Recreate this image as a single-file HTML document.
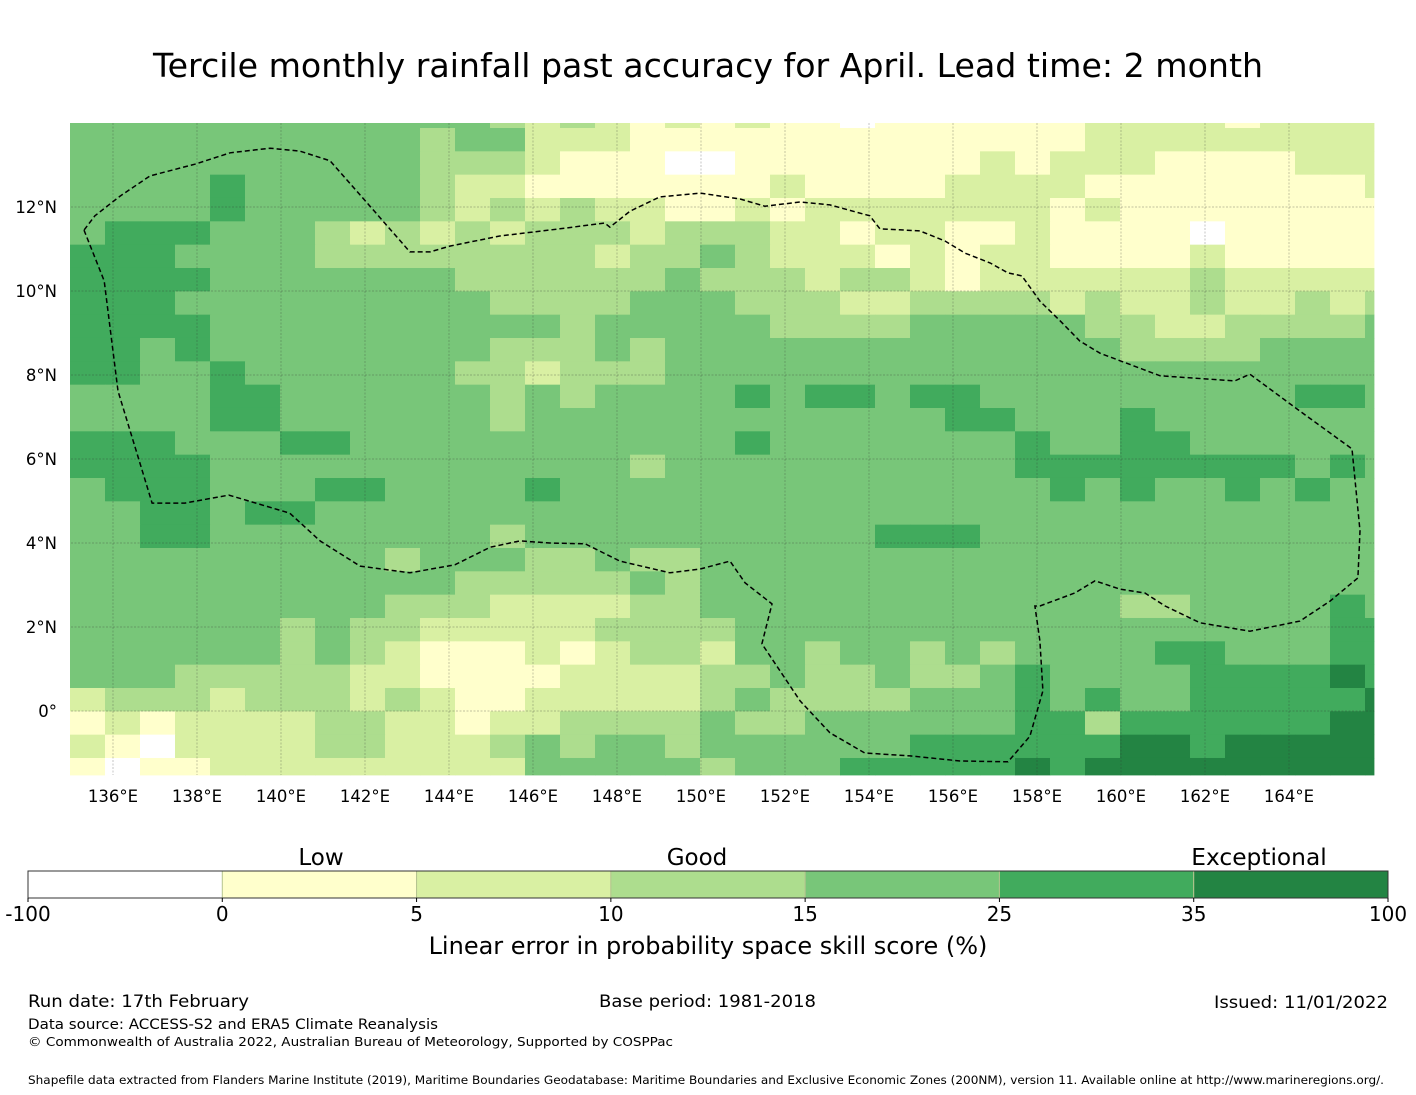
<!DOCTYPE html>
<html><head><meta charset="utf-8"><style>
html,body{margin:0;padding:0;background:#fff;}
svg{display:block;font-family:"DejaVu Sans","Liberation Sans",sans-serif;}
</style></head><body>
<svg id="chart" width="1416" height="1095" viewBox="0 0 1416 1095" xmlns="http://www.w3.org/2000/svg">
<text x="708" y="77" text-anchor="middle" font-size="33.2" fill="#000">Tercile monthly rainfall past accuracy for April. Lead time: 2 month</text>
<g id="map"></g>
<g id="grid"></g>
<path id="eez" fill="none" stroke="#000" stroke-width="1.5" stroke-dasharray="5,3"/>
<g id="xticks"></g>
<g id="yticks"></g>
<g id="cbar"></g>
<text x="321" y="865" text-anchor="middle" font-size="23">Low</text>
<text x="697" y="865" text-anchor="middle" font-size="23">Good</text>
<text x="1259" y="865" text-anchor="middle" font-size="23.3">Exceptional</text>
<text x="708" y="954" text-anchor="middle" font-size="24">Linear error in probability space skill score (%)</text>
<text x="28" y="1007" font-size="17" textLength="221" lengthAdjust="spacingAndGlyphs">Run date: 17th February</text>
<text x="599" y="1007" font-size="17" textLength="217" lengthAdjust="spacingAndGlyphs">Base period: 1981-2018</text>
<text x="1388" y="1008" text-anchor="end" font-size="17" textLength="174" lengthAdjust="spacingAndGlyphs">Issued: 11/01/2022</text>
<text x="28" y="1029" font-size="14.5" textLength="410" lengthAdjust="spacingAndGlyphs">Data source: ACCESS-S2 and ERA5 Climate Reanalysis</text>
<text x="28" y="1046" font-size="12.5" textLength="645" lengthAdjust="spacingAndGlyphs">© Commonwealth of Australia 2022, Australian Bureau of Meteorology, Supported by COSPPac</text>
<text x="28" y="1084" font-size="11.5" textLength="1356" lengthAdjust="spacingAndGlyphs">Shapefile data extracted from Flanders Marine Institute (2019), Maritime Boundaries Geodatabase: Maritime Boundaries and Exclusive Economic Zones (200NM), version 11. Available online at http://www.marineregions.org/.</text>
</svg>
<script>
// category per cell (0..6 -> colour bins), rows north->south, cols west->east
const rows=[
"4444444444443"+"232121211011"+"1111222212222",
"4444444444344"+"222111111111"+"1111222222222",
"4444444444333"+"211100111111"+"1212221111222",
"4444544444322"+"111111121111"+"2222111111112",
"4444544444323"+"232211212222"+"2221211111111",
"4555444323232"+"333233322122"+"1121111011111",
"5554444333333"+"332334322212"+"1221111211111",
"5555444444433"+"333343332332"+"1222222322222",
"5554444444443"+"333444333223"+"3332322322323",
"5555444444444"+"434444433334"+"4444332233334",
"5545444444443"+"334344444444"+"4444433334444",
"5544544444433"+"233344444444"+"4444444444444",
"4444554444443"+"434444545545"+"5444444444554",
"4444554444443"+"444444444444"+"5544454444444",
"5554445544444"+"444444544444"+"4454455444444",
"5555444444444"+"444344444444"+"4455555555454",
"4555444554444"+"544444444444"+"4445454454544",
"4455455444444"+"444444444444"+"4444444444444",
"4455444444443"+"444444444455"+"5444444444444",
"4444444443444"+"334334444444"+"4444444444444",
"4444444444433"+"333434444444"+"4444444444444",
"4444444443332"+"222334444444"+"4444433444454",
"4444443433222"+"223333444444"+"4444444444455",
"4444443432111"+"212332443443"+"4344445544455",
"4443333322111"+"122223343343"+"3454444555565",
"2333233323211"+"222223433334"+"4454544555556",
"1212222332212"+"233334334444"+"4455355555566",
"2102222332223"+"434434444445"+"5555566566666",
"1011222222222"+"444443444555"+"5565666666666"
];
const binEdges=[-100,0,5,10,15,25,35,100];
const binColors=["#ffffff","#ffffcc","#d9f0a3","#addd8e","#78c679","#41ab5d","#238443"];
const lonTicks=[136,138,140,142,144,146,148,150,152,154,156,158,160,162,164];
const latTicks=[0,2,4,6,8,10,12];
const boundaryLonLat=[[135.31,11.45],[135.79,10.24],[136.12,7.62],[136.93,4.95],[137.71,4.95],[138.76,5.14],[140.21,4.71],[140.93,4.05],[141.88,3.45],[143.07,3.29],[144.14,3.48],[144.98,3.90],[145.69,4.05],[146.40,4.00],[147.24,3.98],[148.07,3.57],[149.26,3.29],[149.98,3.38],[150.69,3.57],[151.05,3.05],[151.69,2.55],[151.45,1.60],[152.36,0.24],[153.07,-0.52],[153.90,-1.00],[154.98,-1.07],[156.17,-1.19],[157.31,-1.21],[157.83,-0.60],[158.14,0.48],[158.07,1.67],[157.95,2.50],[158.07,2.50],[158.90,2.81],[159.38,3.10],[159.98,2.90],[160.57,2.81],[161.05,2.50],[161.88,2.10],[163.07,1.90],[164.26,2.14],[164.98,2.62],[165.64,3.17],[165.69,4.29],[165.50,6.24],[164.26,7.14],[163.07,8.02],[162.71,7.86],[160.93,7.98],[159.50,8.52],[159.02,8.81],[158.55,9.29],[158.07,9.76],[157.64,10.36],[157.31,10.43],[156.88,10.67],[156.29,10.90],[155.81,11.19],[155.21,11.43],[154.26,11.48],[154.02,11.79],[153.07,12.05],[152.36,12.12],[151.52,12.02],[150.93,12.19],[149.98,12.33],[149.02,12.24],[148.31,11.90],[147.83,11.52],[147.71,11.62],[146.64,11.48],[145.21,11.31],[144.02,11.07],[143.55,10.93],[143.07,10.93],[142.12,12.02],[141.17,13.10],[140.45,13.33],[139.74,13.40],[138.79,13.29],[137.95,13.02],[136.88,12.74],[136.17,12.26],[135.57,11.79],[135.31,11.45]];

const NS="http://www.w3.org/2000/svg";
const X0=71, Y0=123, PX=42, LON0=135, LAT0=14, MAPW=1303, MAPH=652;
const CW=35, RH=23.333, ROW_OFF=5;
function xLon(l){return X0+(l-LON0)*PX;}
function yLat(l){return Y0+(LAT0-l)*PX;}

const map=document.getElementById('map');
rows.forEach((r,ri)=>{
  let top=Y0+ROW_OFF+(ri-1)*RH, bot=top+RH;
  top=Math.max(top,Y0); bot=Math.min(bot,Y0+MAPH);
  for(let ci=0;ci<r.length;ci++){
    const x=70+ci*CW, w=Math.min(CW, X0+MAPW-x);
    if(w<=0)continue;
    const rc=document.createElementNS(NS,'rect');
    
    
    rc.setAttribute('x',x);rc.setAttribute('y',top);
    rc.setAttribute('width',w+0.4);rc.setAttribute('height',bot-top+0.4);
    rc.setAttribute('fill',binColors[+r[ci]]);
    map.appendChild(rc);
  }
});

const grid=document.getElementById('grid'), xt=document.getElementById('xticks'), yt=document.getElementById('yticks');
lonTicks.forEach(l=>{
  const x=xLon(l);
  const ln=document.createElementNS(NS,'line');
  
  
  ln.setAttribute('x1',x);ln.setAttribute('x2',x);ln.setAttribute('y1',Y0);ln.setAttribute('y2',Y0+MAPH);
  ln.setAttribute('stroke','#333');ln.setAttribute('stroke-opacity','0.4');ln.setAttribute('stroke-width','0.7');ln.setAttribute('stroke-dasharray','2,1.5');
  grid.appendChild(ln);
  const t=document.createElementNS(NS,'text');
  
  
  t.setAttribute('x',x);t.setAttribute('y',802);t.setAttribute('text-anchor','middle');t.setAttribute('font-size','16.5');
  t.textContent=l+'°E';xt.appendChild(t);
});
latTicks.forEach(l=>{
  const y=yLat(l);
  const ln=document.createElementNS(NS,'line');
  
  
  ln.setAttribute('x1',X0);ln.setAttribute('x2',X0+MAPW);ln.setAttribute('y1',y);ln.setAttribute('y2',y);
  ln.setAttribute('stroke','#333');ln.setAttribute('stroke-opacity','0.4');ln.setAttribute('stroke-width','0.7');ln.setAttribute('stroke-dasharray','2,1.5');
  grid.appendChild(ln);
  const t=document.createElementNS(NS,'text');
  
  
  t.setAttribute('x',57);t.setAttribute('y',y+6);t.setAttribute('text-anchor','end');t.setAttribute('font-size','16.5');
  t.textContent=l===0?'0°':l+'°N';yt.appendChild(t);
});

document.getElementById('eez').setAttribute('d',boundaryLonLat.map((p,i)=>(i?'L':'M')+xLon(p[0]).toFixed(1)+','+yLat(p[1]).toFixed(1)).join(''));

const cb=document.getElementById('cbar');
const CBX=28, CBW=1360, CBY=871, CBH=27, seg=CBW/binColors.length;
binColors.forEach((c,i)=>{
  const r=document.createElementNS(NS,'rect');
  
  
  r.setAttribute('x',CBX+i*seg);r.setAttribute('y',CBY);r.setAttribute('width',seg);r.setAttribute('height',CBH);
  r.setAttribute('fill',c);r.setAttribute('stroke',i?'#b5c48f':'none');r.setAttribute('stroke-width','1');
  cb.appendChild(r);
});
const ob=document.createElementNS(NS,'rect');


ob.setAttribute('x',CBX);ob.setAttribute('y',CBY);ob.setAttribute('width',CBW);ob.setAttribute('height',CBH);
ob.setAttribute('fill','none');ob.setAttribute('stroke','#333');ob.setAttribute('stroke-width','1');
cb.appendChild(ob);
binEdges.forEach((v,i)=>{
  const x=CBX+i*seg;
  const tk=document.createElementNS(NS,'line');
  
  
  tk.setAttribute('x1',x);tk.setAttribute('x2',x);tk.setAttribute('y1',CBY+CBH);tk.setAttribute('y2',CBY+CBH+4);tk.setAttribute('stroke','#000');
  cb.appendChild(tk);
  const t=document.createElementNS(NS,'text');
  
  
  t.setAttribute('x',x);t.setAttribute('y',921);t.setAttribute('text-anchor','middle');t.setAttribute('font-size','20');
  t.textContent=v;cb.appendChild(t);
});
</script>
</body></html>
